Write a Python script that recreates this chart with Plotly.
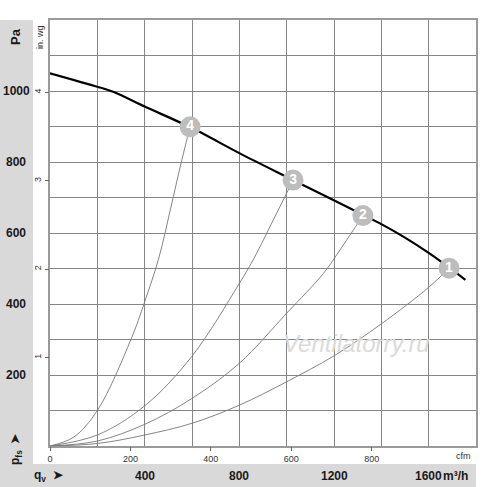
import plotly.graph_objects as go

# fan curve, m3/h vs Pa
flow_fan = [0, 200, 270, 400, 590, 800, 1000, 1320, 1400, 1500, 1600, 1686, 1755]
p_fan = [1050, 1012, 997, 956, 899, 825, 758, 652, 625, 587, 544, 503, 468]

# operating points
op_flow = [1686, 1322, 1027, 592]
op_p = [501, 649, 749, 899]
op_labels = ["1", "2", "3", "4"]

# system curves through each point
sys1_q = [0, 200, 400, 600, 800, 1000, 1200, 1400, 1600, 1686]
sys1_p = [0, 7, 31, 64, 115, 181, 254, 344, 447, 501]
sys2_q = [0, 200, 400, 600, 800, 1000, 1155, 1225, 1322]
sys2_p = [0, 14, 61, 134, 233, 374, 486, 552, 649]
sys3_q = [0, 200, 400, 600, 800, 858, 958, 1027]
sys3_p = [0, 31, 113, 253, 458, 524, 656, 749]
sys4_q = [0, 100, 200, 342, 400, 460, 510, 555, 592]
sys4_p = [0, 25, 100, 300, 406, 530, 670, 800, 899]

m3h_labels = [400, 800, 1200, 1600]
pa_labels = [200, 400, 600, 800, 1000]
cfm_ticks = [0, 200, 400, 600, 800]
inwg_ticks = [1, 2, 3, 4]

FONT = "Liberation Sans, Arial, sans-serif"
PW, PH = 426, 426  # plot area in px
L, T = 50, 20


def px_x(px):
    return (px - L) / PW


def px_y(py):
    return (T + PH - py) / PH


fig = go.Figure()

for q, p in [(sys1_q, sys1_p), (sys2_q, sys2_p), (sys3_q, sys3_p), (sys4_q, sys4_p)]:
    fig.add_trace(go.Scatter(
        x=q, y=p, mode="lines",
        line=dict(color="#777777", width=0.9, shape="spline"),
        hoverinfo="skip", showlegend=False,
    ))

fig.add_trace(go.Scatter(
    x=flow_fan, y=p_fan, mode="lines",
    line=dict(color="black", width=2.2, shape="spline", smoothing=0.8),
    showlegend=False,
))

fig.add_trace(go.Scatter(
    x=op_flow, y=op_p, mode="markers+text",
    marker=dict(size=21, color="#bdbdbd", line=dict(width=0)),
    text=op_labels, textposition="middle center",
    textfont=dict(color="white", size=14, family=FONT, weight="bold"),
    showlegend=False,
))

# dummy traces so the secondary axes get drawn
fig.add_trace(go.Scatter(x=[cfm_ticks[0]], y=[0], xaxis="x2", yaxis="y",
                         mode="lines", showlegend=False, hoverinfo="skip"))
fig.add_trace(go.Scatter(x=[0], y=[inwg_ticks[0]], xaxis="x", yaxis="y2",
                         mode="lines", showlegend=False, hoverinfo="skip"))

grid = dict(showgrid=True, gridcolor="#858585", gridwidth=1, zeroline=False,
            showline=True, mirror=True, linecolor="#9a9a9a", linewidth=1.5,
            showticklabels=False, ticks="")

fig.update_layout(
    width=500, height=487,
    margin=dict(l=L, r=500 - L - PW, t=T, b=487 - T - PH),
    paper_bgcolor="white", plot_bgcolor="white",
    font=dict(family=FONT, size=12, color="#222"),
    xaxis=dict(range=[0, 1800], dtick=200, tick0=0, **grid),
    yaxis=dict(range=[0, 1200], dtick=100, tick0=0, **grid),
    xaxis2=dict(range=[0, 1800 / 1.699], overlaying="x", anchor="y", side="bottom",
                tickvals=cfm_ticks, ticks="outside", ticklen=4, tickcolor="#666",
                ticklabelstandoff=0,
                showgrid=False, zeroline=False, showline=False,
                tickfont=dict(size=9, color="#333")),
    yaxis2=dict(range=[0, 1200 / 249.09], overlaying="y", anchor="x", side="left",
                tickvals=inwg_ticks, ticks="outside", ticklen=4, tickcolor="#666",
                tickangle=-90, showgrid=False, zeroline=False, showline=False,
                tickfont=dict(size=9, color="#333")),
    shapes=[
        dict(type="rect", xref="paper", yref="paper", layer="below",
             x0=px_x(0), x1=px_x(33), y0=px_y(487), y1=1.0,
             fillcolor="#d9d9d9", line=dict(width=0)),
        dict(type="rect", xref="paper", yref="paper", layer="below",
             x0=px_x(0), x1=1.0, y0=px_y(487), y1=px_y(464),
             fillcolor="#d9d9d9", line=dict(width=0)),
    ],
)

bold = dict(family=FONT, size=12, color="#1a1a1a", weight="bold")
ann = []
for v in pa_labels:
    ann.append(dict(x=px_x(16), xref="paper", y=v, yref="y", text=str(v),
                    showarrow=False, font=bold, xanchor="center", yanchor="middle"))
for v in m3h_labels:
    ann.append(dict(x=v, xref="x", y=px_y(476), yref="paper", text=str(v),
                    showarrow=False, font=bold, xanchor="center", yanchor="middle"))
ann += [
    dict(x=px_x(441), xref="paper", y=px_y(476), yref="paper", text="m³/h",
         showarrow=False, font=bold, xanchor="left", yanchor="middle"),
    dict(x=px_x(32), xref="paper", y=px_y(476), yref="paper", text="q<sub>v</sub>  ➤",
         showarrow=False, font=bold, xanchor="left", yanchor="middle"),
    dict(x=px_x(15), xref="paper", y=px_y(37), yref="paper", text="Pa", textangle=-90,
         showarrow=False, font=dict(bold, size=13), xanchor="center", yanchor="middle"),
    dict(x=px_x(16), xref="paper", y=px_y(449), yref="paper", text="p<sub>fs</sub>  ➤",
         textangle=-90, showarrow=False, font=bold, xanchor="center", yanchor="middle"),
    dict(x=px_x(40), xref="paper", y=px_y(37), yref="paper", text="in. wg", textangle=-90,
         showarrow=False, font=dict(family=FONT, size=9, color="#333"),
         xanchor="center", yanchor="middle"),
    dict(x=px_x(463), xref="paper", y=px_y(456), yref="paper", text="cfm",
         showarrow=False, font=dict(family=FONT, size=9, color="#333"),
         xanchor="center", yanchor="middle"),
    dict(x=px_x(356), xref="paper", y=px_y(343), yref="paper", text="<i>Ventilatorry.ru</i>",
         showarrow=False, font=dict(family=FONT, size=24, color="#dadada"),
         xanchor="center", yanchor="middle"),
]
fig.update_layout(annotations=ann)

fig.write_html("out.html", config={"displayModeBar": False},
               post_script="document.body.style.margin='0';")
